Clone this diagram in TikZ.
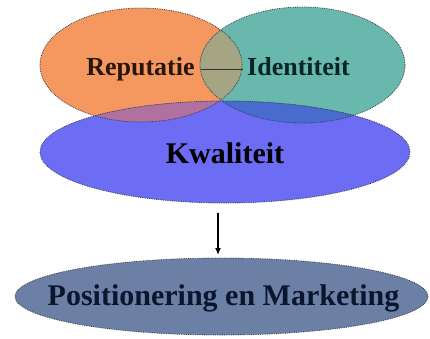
\documentclass[tikz,border=0pt]{standalone}
\usepackage{fontspec}
\setmainfont{Liberation Serif}
\usetikzlibrary{shapes.geometric,arrows.meta}
\definecolor{orangeC}{RGB}{244,152,95}
\definecolor{tealC}{RGB}{104,184,174}
\definecolor{lensC}{RGB}{165,165,132}
\definecolor{blueC}{RGB}{108,108,244}
\definecolor{mauveC}{RGB}{176,112,160}
\definecolor{dblueC}{RGB}{72,108,205}
\definecolor{posC}{RGB}{108,128,166}
\definecolor{edgeC}{RGB}{60,60,70}
\tikzset{
  oval/.style={ellipse, inner sep=0pt, draw=edgeC, densely dotted, line width=0.8pt},
  lbl/.style={anchor=base, inner sep=0pt, font=\bfseries},
}
\begin{document}
\begin{tikzpicture}[x=1pt,y=-1pt]
\useasboundingbox (0,0) rectangle (430,338);
% fills
\fill[orangeC] (141,65) ellipse [x radius=101, y radius=57];
\fill[tealC] (302.5,65) ellipse [x radius=102.5, y radius=58];
\begin{scope}
  \clip (141,65) ellipse [x radius=101, y radius=57];
  \fill[lensC] (302.5,65) ellipse [x radius=102.5, y radius=58];
\end{scope}
\fill[blueC] (225,152) ellipse [x radius=185, y radius=51];
\begin{scope}
  \clip (141,65) ellipse [x radius=101, y radius=57];
  \fill[mauveC] (225,152) ellipse [x radius=185, y radius=51];
\end{scope}
\begin{scope}
  \clip (302.5,65) ellipse [x radius=102.5, y radius=58];
  \fill[dblueC] (225,152) ellipse [x radius=185, y radius=51];
\end{scope}
% outlines as named nodes
\node[oval, minimum width=202pt, minimum height=114pt] (rep) at (141,65) {};
\node[oval, minimum width=205pt, minimum height=116pt] (ide) at (302.5,65) {};
\node[oval, minimum width=370pt, minimum height=102pt] (kwa) at (225,152) {};
\node[oval, fill=posC, minimum width=413pt, minimum height=77pt] (pos) at (221.5,296.5) {};
% line through the lens
\coordinate (la) at (201,69);
\coordinate (lb) at (243,69);
\draw[edgeC!80!black, line width=0.6pt] (la) -- (lb);
% texts
\node[lbl, text={rgb,255:red,40;green,22;blue,12}, font=\fontsize{26}{26}\selectfont\bfseries] (t1) at (140.5,75) {Reputatie};
\node[lbl, text={rgb,255:red,8;green,38;blue,38}, font=\fontsize{26}{26}\selectfont\bfseries] (t2) at (298.5,75) {Identiteit};
\node[lbl, text=black, font=\fontsize{30}{30}\selectfont\bfseries] (t3) at (225,163) {Kwaliteit};
\node[lbl, text={rgb,255:red,10;green,22;blue,45}, font=\fontsize{30}{30}\selectfont\bfseries] (t4) at (223.5,305) {Positionering en Marketing};
% arrow
\coordinate (as) at (218,213);
\coordinate (ae) at (218,255);
\draw[line width=1.4pt, -{Latex[length=7pt,width=6pt]}] (as) -- (ae);
\end{tikzpicture}
\end{document}
